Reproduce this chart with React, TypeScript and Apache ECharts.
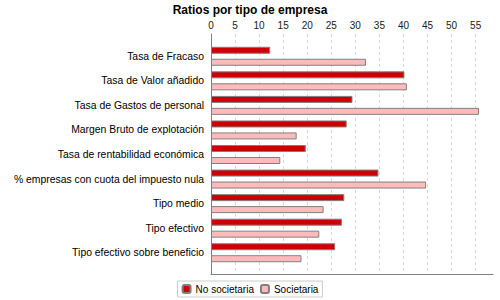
import React, { useEffect, useRef } from "react";
import * as echarts from "echarts";

const categories = [
  "Tasa de Fracaso",
  "Tasa de Valor añadido",
  "Tasa de Gastos de personal",
  "Margen Bruto de explotación",
  "Tasa de rentabilidad económica",
  "% empresas con cuota del impuesto nula",
  "Tipo medio",
  "Tipo efectivo",
  "Tipo efectivo sobre beneficio",
];
const noSocietaria = [12.3, 40.2, 29.4, 28.2, 19.7, 34.8, 27.7, 27.2, 25.8];
const societaria = [32.2, 40.7, 55.7, 17.8, 14.4, 44.7, 23.4, 22.5, 18.8];
const seriesNames = ["No societaria", "Societaria"];
const axisMax = 58.6;

export default function App() {
  const ref = useRef<HTMLDivElement>(null);
  useEffect(() => {
    if (!ref.current) return;
    const chart = echarts.init(ref.current, undefined, { renderer: "svg" });
    const font = "Liberation Sans, Arial, sans-serif";
    chart.setOption({
      animation: false,
      backgroundColor: "#ffffff",
      title: {
        text: "Ratios por tipo de empresa",
        left: "center",
        top: -1,
        textStyle: { fontSize: 12, fontWeight: "bold", color: "#000", fontFamily: font },
      },
      legend: {
        data: seriesNames,
        left: "center",
        top: 281,
        itemWidth: 8,
        itemHeight: 8,
        itemGap: 6,
        borderColor: "#cccccc",
        borderWidth: 1,
        padding: [3, 4],
        textStyle: { fontSize: 10, color: "#000", fontFamily: font },
      },
      grid: [
        { left: 211, right: 7, top: 34, bottom: 26 },
        { left: 211, right: 7, top: 44, height: 221 },
      ],
      xAxis: [
        {
          gridIndex: 0,
          type: "value",
          position: "top",
          min: 0,
          max: axisMax,
          interval: 5,
          axisLine: { show: true, lineStyle: { color: "#808080" } },
          axisTick: { show: false },
          axisLabel: {
            fontSize: 10,
            color: "#222",
            margin: 4,
            fontFamily: font,
            showMaxLabel: false,
          },
          splitLine: {
            show: true,
            showMinLine: false,
            showMaxLine: false,
            lineStyle: { color: "#d9d9d9", type: [3, 3] },
          },
        },
        {
          gridIndex: 1,
          type: "value",
          min: 0,
          max: axisMax,
          show: false,
        },
      ],
      yAxis: [
        {
          gridIndex: 0,
          type: "value",
          min: 0,
          max: 1,
          axisLine: { show: true, lineStyle: { color: "#808080" } },
          axisTick: { show: false },
          axisLabel: { show: false },
          splitLine: { show: false },
        },
        {
          gridIndex: 1,
          type: "category",
          inverse: true,
          data: categories,
          axisLine: { show: false },
          axisTick: { show: false },
          splitLine: { show: false },
          axisLabel: { fontSize: 10.4, color: "#000", margin: 7, fontFamily: font },
        },
      ],
      series: [
        {
          name: seriesNames[0],
          type: "bar",
          xAxisIndex: 1,
          yAxisIndex: 1,
          data: noSocietaria,
          barWidth: 7,
          barGap: "71%",
          itemStyle: { color: "#cc0000", borderColor: "#808080", borderWidth: 1 },
        },
        {
          name: seriesNames[1],
          type: "bar",
          xAxisIndex: 1,
          yAxisIndex: 1,
          data: societaria,
          barWidth: 7,
          barGap: "71%",
          itemStyle: { color: "#ffbbbb", borderColor: "#808080", borderWidth: 1 },
        },
      ],
    });
    return () => chart.dispose();
  }, []);
  return (
    <div
      ref={ref}
      style={{ position: "fixed", left: 0, top: 0, width: 500, height: 300 }}
    />
  );
}
